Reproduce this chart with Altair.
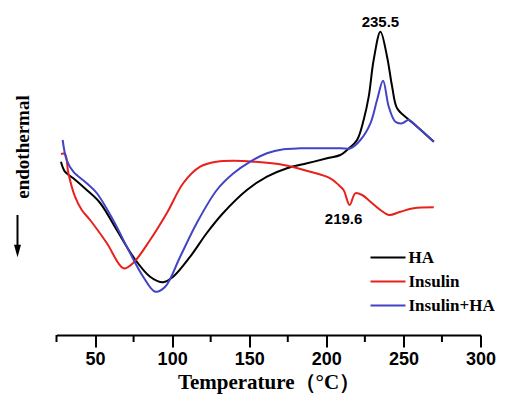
import altair as alt
import pandas as pd

# ---- data (Temperature in °C, heat flow in arbitrary units) ----
ha_t = [27.9, 30.5, 35.9, 44.6, 53.3, 64.1, 74.7, 85.7, 94.2, 100.7, 111.7, 122.5, 133.1,
        148.5, 161.5, 174.5, 187.5, 200.5, 209.1, 213.4, 219.9, 224.2, 227.5, 230.7, 235.1,
        239.4, 242.7, 245.9, 252.4, 258.9, 269.7]
ha_hf = [13.83, 12.83, 12.17, 11.0, 9.7, 7.0, 4.33, 2.33, 1.77, 2.33, 4.33, 6.7, 8.7,
         11.0, 12.33, 13.17, 13.67, 14.17, 14.5, 15.0, 16.0, 18.0, 20.33, 24.0, 26.83,
         24.33, 21.33, 19.17, 18.17, 17.33, 15.83]

ins_t = [27.9, 30.5, 32.7, 37.0, 41.4, 46.8, 57.6, 68.4, 74.7, 85.7, 96.6, 107.3, 118.2,
         129.0, 139.8, 152.8, 172.3, 189.6, 202.6, 208.0, 211.2, 215.1, 218.8, 223.2, 228.6,
         235.1, 240.5, 248.1, 256.7, 269.7]
ins_hf = [14.6, 14.6, 12.67, 10.33, 9.0, 8.0, 5.7, 3.17, 3.7, 6.0, 8.7, 11.7, 13.33,
          13.83, 13.93, 13.83, 13.5, 12.83, 12.17, 11.5, 11.0, 9.5, 10.67, 10.5, 9.83,
          9.0, 8.5, 8.83, 9.17, 9.27]

mix_t = [29.0, 31.6, 35.9, 44.6, 51.1, 61.7, 72.7, 81.2, 89.0, 95.5, 105.2, 116.0, 129.0,
         139.8, 150.7, 161.5, 172.3, 183.1, 209.1, 215.6, 222.1, 228.6, 232.9, 236.8, 240.5,
         244.8, 249.2, 253.4, 258.9, 269.7]
mix_hf = [16.0, 14.0, 12.83, 11.67, 10.7, 8.0, 4.7, 2.33, 0.83, 1.33, 4.33, 7.7, 11.0,
          12.67, 13.83, 14.67, 15.07, 15.17, 15.17, 15.17, 16.0, 17.67, 20.0, 21.93, 19.33,
          17.83, 17.67, 18.0, 17.33, 15.83]

series_names = ["HA", "Insulin", "Insulin+HA"]
series_colors = ["#000000", "#e8211d", "#4343c6"]

peak_t = [235.1]
peak_hf = [26.83]
peak_label = ["235.5"]
dip_t = [215.1]
dip_hf = [9.5]
dip_label = ["219.6"]

major_ticks = [50, 100, 150, 200, 250, 300]
minor_ticks = [25, 75, 125, 175, 225, 275]

rows = []
for name, ts, hs in zip(series_names, [ha_t, ins_t, mix_t], [ha_hf, ins_hf, mix_hf]):
    for t, h in zip(ts, hs):
        rows.append({"Sample": name, "Temperature": t, "HeatFlow": h})
df = pd.DataFrame(rows)

x_scale = alt.Scale(domain=[25, 300], nice=False, zero=False)
y_scale = alt.Scale(domain=[-3.5, 28], nice=False, zero=False)

lines = alt.Chart(df).mark_line(interpolate="catmull-rom", strokeWidth=2).encode(
    x=alt.X("Temperature:Q", scale=x_scale, axis=alt.Axis(
        values=major_ticks, tickSize=12,
        tickWidth=2, tickColor="black", domainWidth=2, domainColor="black",
        labelFont="Liberation Sans", labelFontWeight="bold", labelFontSize=18,
        labelColor="black", labelPadding=3, labelFlush=False, labelOverlap=False,
        title="Temperature（°C）", titleFont="Liberation Serif", titleFontWeight="bold",
        titleFontSize=21, titleColor="black", titlePadding=3, grid=False)),
    y=alt.Y("HeatFlow:Q", scale=y_scale, axis=alt.Axis(
        domain=False, ticks=False, labels=False, grid=False,
        title="endothermal", titleFont="Liberation Serif", titleFontWeight="bold",
        titleFontSize=19, titleColor="black", titleAngle=270, titleX=-34, titleY=126.5,
        titleAlign="center", titleBaseline="middle")),
    color=alt.Color("Sample:N", scale=alt.Scale(domain=series_names, range=series_colors),
                    legend=alt.Legend(title=None, orient="none", legendX=323, legendY=229,
                                      symbolType="M-5,0H5", symbolSize=49, symbolStrokeWidth=2,
                                      labelFont="Liberation Serif", labelFontWeight="bold",
                                      labelFontSize=17, labelColor="black", labelOffset=12,
                                      rowPadding=6, padding=0, labelLimit=300)),
)

minor = alt.Chart(pd.DataFrame({"t": minor_ticks})).mark_rule(color="black", strokeWidth=2).encode(
    x=alt.X("t:Q", scale=x_scale), y=alt.value(315), y2=alt.value(322))

peak_text = alt.Chart(pd.DataFrame({"t": peak_t, "h": peak_hf, "l": peak_label})).mark_text(
    font="Liberation Sans", fontWeight="bold", fontSize=15, color="black",
    baseline="middle", dy=-10).encode(x=alt.X("t:Q", scale=x_scale), y=alt.Y("h:Q", scale=y_scale), text="l:N")

dip_text = alt.Chart(pd.DataFrame({"t": dip_t, "h": dip_hf, "l": dip_label})).mark_text(
    font="Liberation Sans", fontWeight="bold", fontSize=15, color="black",
    baseline="middle", dx=-6, dy=14).encode(x=alt.X("t:Q", scale=x_scale), y=alt.Y("h:Q", scale=y_scale), text="l:N")

one = pd.DataFrame({"a": [0]})
arrow_shaft = alt.Chart(one).mark_rule(color="black", strokeWidth=2).encode(
    x=alt.value(-39), y=alt.value(195), y2=alt.value(228))
arrow_head = alt.Chart(one).mark_point(shape="M-1,-1.8L1,-1.8L0,1.8Z", filled=True, size=49,
                                       color="black", opacity=1).encode(
    x=alt.value(-39), y=alt.value(231))

chart = alt.layer(lines, minor, peak_text, dip_text, arrow_shaft, arrow_head).properties(
    width=424, height=315,
    autosize=alt.AutoSizeParams(type="none"),
    padding={"left": 48.5, "top": 12, "right": 18, "bottom": 60},
    background="white",
).configure_view(stroke=None)

chart.save("out.html", embed_options={"renderer": "svg", "actions": False})
